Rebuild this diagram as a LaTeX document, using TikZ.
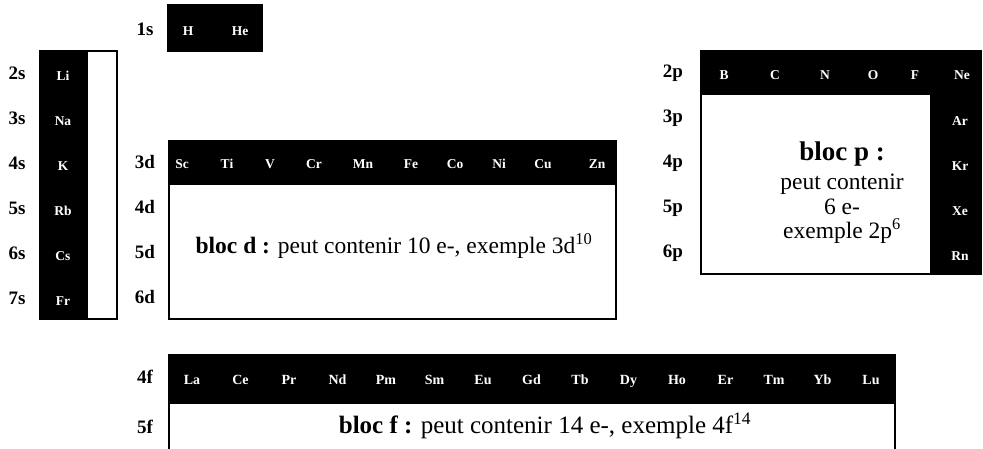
\documentclass[tikz,border=0pt]{standalone}
\usepackage{fontspec}
\setmainfont{Liberation Serif}
\begin{document}
\begin{tikzpicture}[x=1pt,y=-1pt,
  blk/.style={fill=black},
  frame/.style={draw=black,line width=2pt,fill=white},
  el/.style={text=white,font=\fontsize{13.5}{13.5}\selectfont\bfseries,inner sep=0pt,text height=9pt,text depth=0pt},
  fel/.style={el,font=\fontsize{14}{14}\selectfont\bfseries},
  lbl/.style={font=\fontsize{19}{19}\selectfont\bfseries,inner sep=0pt},
  body/.style={font=\fontsize{23.5}{24}\selectfont,inner sep=0pt,align=center}]
\useasboundingbox[fill=white] (0,0) rectangle (983,449);

% 1s
\fill[blk] (167,4) rectangle (263,52);
\node[lbl] (l1s) at (145,29) {1s};
\node[el] (H) at (188,31) {H};
\node[el] (He) at (240,31) {He};

% s block
\draw[frame] (40,51) rectangle (117,319);
\fill[blk] (39,50) rectangle (88,320);
\foreach \n/\e [count=\i from 0] in {2/Li,3/Na,4/K,5/Rb,6/Cs,7/Fr}{
  \node[lbl] (s\n) at (17,{73+45*\i}) {\n s};
  \node[el] (\e) at (63,{76+45*\i}) {\e};
}

% d block
\draw[frame] (169,141) rectangle (616,319);
\fill[blk] (168,140) rectangle (617,185);
\foreach \n [count=\i from 0] in {3,4,5,6}{
  \node[lbl] (d\n) at (145,{162+45*\i}) {\n d};
}
\foreach \e/\x in {Sc/182,Ti/227,V/270,Cr/314,Mn/363,Fe/411,Co/455,Ni/499,Cu/543,Zn/597}{
  \node[el] (\e) at (\x,164) {\e};
}
\node[body] (blocd) at (394,246) {\textbf{bloc d :} peut contenir 10 e-, exemple 3d\textsuperscript{10}};

% p block
\draw[frame] (701,51) rectangle (981,274);
\fill[blk] (700,50) rectangle (982,95);
\fill[blk] (930,50) rectangle (982,275);
\foreach \n [count=\i from 0] in {2,3,4,5,6}{
  \node[lbl] (p\n) at (673,{73+45*\i}) {\n p};
}
\foreach \e/\x in {B/724,C/775,N/825,O/873,F/915,Ne/962}{
  \node[el] (\e) at (\x,75) {\e};
}
\foreach \e [count=\i from 1] in {Ar,Kr,Xe,Rn}{
  \node[el] (\e) at (960,{76+45*\i}) {\e};
}
\node[body,anchor=base,font=\fontsize{27}{27}\selectfont\bfseries] (blocp1) at (842,161) {bloc p :};
\node[body,anchor=base] (blocp2) at (842,190) {peut contenir};
\node[body,anchor=base] (blocp3) at (842,215) {6 e-};
\node[body,anchor=base] (blocp4) at (842,239) {exemple 2p\textsuperscript{6}};

% f block
\fill[blk] (168,354) rectangle (896,404);
\draw[line width=2pt] (169,403) -- (169,452);
\draw[line width=2pt] (895,403) -- (895,452);
\node[lbl] (f4) at (145,377) {4f};
\node[lbl] (f5) at (145,427) {5f};
\foreach \e [count=\i from 0] in {La,Ce,Pr,Nd,Pm,Sm,Eu,Gd,Tb,Dy,Ho,Er,Tm,Yb,Lu}{
  \node[fel] (\e) at ({192+48.5*\i},380) {\e};
}
\node[body,font=\fontsize{25}{25}\selectfont] (blocf) at (545,426) {\textbf{bloc f :} peut contenir 14 e-, exemple 4f\textsuperscript{14}};
\end{tikzpicture}
\end{document}
